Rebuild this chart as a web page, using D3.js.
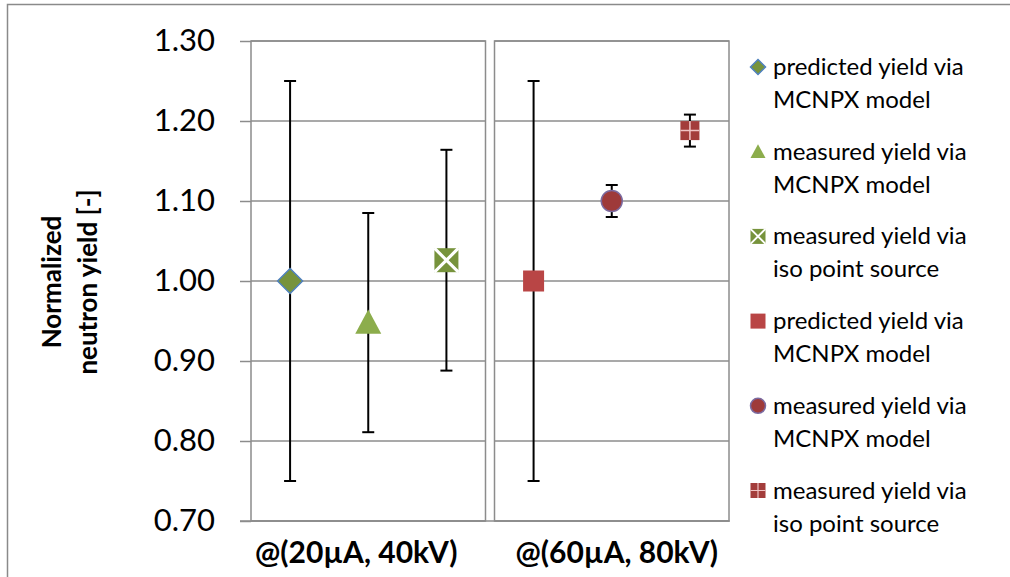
<!DOCTYPE html>
<html>
<head>
<meta charset="utf-8">
<script src="https://cdn.jsdelivr.net/npm/d3@7"></script>
<style>
  body { margin: 0; background: #fff; }
  svg { display: block; font-family: Lato, "Open Sans", sans-serif; }
</style>
</head>
<body>
<div id="chart"></div>
<script>
// categories along the x axis
var categories = ["@(20\u00b5A, 40kV)", "@(60\u00b5A, 80kV)"];

// three series in each category
var values20 = [1.000, 0.948, 1.026];
var errors20 = [0.250, 0.137, 0.138];
var values60 = [1.000, 1.100, 1.188];
var errors60 = [0.250, 0.020, 0.020];

var markers20 = ["diamond", "triangle", "xsquare"];
var markers60 = ["square", "circle", "plussquare"];

var legendLabels = [
    ["predicted yield via", "MCNPX model"],
    ["measured yield via", "MCNPX model"],
    ["measured yield via", "iso point source"],
    ["predicted yield via", "MCNPX model"],
    ["measured yield via", "MCNPX model"],
    ["measured yield via", "iso point source"]
];

var yTicks = [0.70, 0.80, 0.90, 1.00, 1.10, 1.20, 1.30];

var W = 1010, H = 577;
var svg = d3.select("#chart").append("svg")
    .attr("width", W)
    .attr("height", H);

var gridColor = "#8c8c8c";

// outer frame, cut off on the right and the bottom
svg.append("rect")
    .attr("x", 7.5).attr("y", 4.5)
    .attr("width", W + 20).attr("height", H + 20)
    .attr("fill", "none")
    .attr("stroke", "#8a8a8a")
    .attr("stroke-width", 1.5);

var y = d3.scaleLinear().domain([0.7, 1.3]).range([521, 41]);

var xGroup = d3.scaleBand()
    .domain(categories)
    .range([251, 729])
    .paddingInner(0.037)
    .paddingOuter(0);

var xInner = d3.scaleBand()
    .domain([0, 1, 2])
    .range([0, xGroup.bandwidth()]);

var groups = [
    {name: categories[0], values: values20, errors: errors20, markers: markers20},
    {name: categories[1], values: values60, errors: errors60, markers: markers60}
];

// panels with gridlines
groups.forEach(function(g){
    var x0 = xGroup(g.name);
    var x1 = x0 + xGroup.bandwidth();
    svg.append("g").selectAll("line")
        .data(yTicks)
        .enter().append("line")
        .attr("x1", x0).attr("x2", x1)
        .attr("y1", function(d){ return y(d); })
        .attr("y2", function(d){ return y(d); })
        .attr("stroke", gridColor)
        .attr("stroke-width", 1.5);
    svg.append("rect")
        .attr("x", x0).attr("y", y(1.3))
        .attr("width", x1 - x0).attr("height", y(0.7) - y(1.3))
        .attr("fill", "none")
        .attr("stroke", gridColor)
        .attr("stroke-width", 1.5);
});

// y axis
var yAxis = d3.axisLeft(y)
    .tickValues(yTicks)
    .tickFormat(d3.format(".2f"))
    .tickSize(11)
    .tickPadding(25);
var yg = svg.append("g")
    .attr("transform", "translate(251,0)")
    .call(yAxis);
yg.select(".domain").remove();
yg.selectAll(".tick line").attr("stroke", gridColor).attr("stroke-width", 1.5);
yg.selectAll(".tick text")
    .attr("fill", "#000")
    .style("font-size", "31px")
    .style("font-family", "Lato, sans-serif");

// bottom baseline
svg.append("line")
    .attr("x1", 240).attr("x2", 729.75)
    .attr("y1", y(0.7)).attr("y2", y(0.7))
    .attr("stroke", gridColor)
    .attr("stroke-width", 1.5);

// category labels (Excel puts them a little off the panel centres)
var labelShift = [-12, 5];
svg.append("g").selectAll("text")
    .data(categories)
    .enter().append("text")
    .attr("x", function(d, i){ return xGroup(d) + xGroup.bandwidth() / 2 + labelShift[i]; })
    .attr("y", 563)
    .attr("text-anchor", "middle")
    .style("font-size", "30px")
    .style("font-weight", "bold")
    .text(function(d){ return d; });

// y title
var yTitle = svg.append("text")
    .attr("transform", "translate(0,282) rotate(-90)")
    .attr("text-anchor", "middle")
    .style("font-size", "26px")
    .style("font-weight", "bold");
yTitle.append("tspan").attr("x", 0).attr("y", 61).text("Normalized");
yTitle.append("tspan").attr("x", 0).attr("y", 97).text("neutron yield [-]");

function drawMarker(sel, type, s){
    // s = nominal size in px
    var h = s / 2;
    if (type == "diamond"){
        sel.append("path")
            .attr("d", "M0," + (-h) + "L" + h + ",0L0," + h + "L" + (-h) + ",0Z")
            .attr("fill", "#77933c")
            .attr("stroke", "#4f81bd")
            .attr("stroke-width", 1.5);
    }
    else if (type == "triangle"){
        sel.append("path")
            .attr("d", "M0," + (-h) + "L" + h + "," + (h * 0.85) + "L" + (-h) + "," + (h * 0.85) + "Z")
            .attr("fill", "#8cad4c");
    }
    else if (type == "xsquare"){
        sel.append("rect")
            .attr("x", -h).attr("y", -h).attr("width", s).attr("height", s)
            .attr("fill", "#77933c");
        sel.append("path")
            .attr("d", "M" + (-h) + "," + (-h) + "L" + h + "," + h + "M" + h + "," + (-h) + "L" + (-h) + "," + h)
            .attr("stroke", "#fff")
            .attr("stroke-width", s * 0.13);
    }
    else if (type == "square"){
        sel.append("rect")
            .attr("x", -h).attr("y", -h).attr("width", s).attr("height", s)
            .attr("fill", "#b94545");
    }
    else if (type == "circle"){
        sel.append("circle")
            .attr("r", h)
            .attr("fill", "#9e3a3a")
            .attr("stroke", "#7b6aa0")
            .attr("stroke-width", 1.5);
    }
    else if (type == "plussquare"){
        sel.append("rect")
            .attr("x", -h).attr("y", -h).attr("width", s).attr("height", s)
            .attr("fill", "#a33d3b");
        sel.append("path")
            .attr("d", "M0," + (-h) + "V" + h + "M" + (-h) + ",0H" + h)
            .attr("stroke", "#f0c4c4")
            .attr("stroke-width", s * 0.08);
    }
}

var markerSizes = {diamond: 25, triangle: 26, xsquare: 24, square: 21, circle: 21, plussquare: 19};

// error bars and markers
groups.forEach(function(g){
    var x0 = xGroup(g.name);
    g.values.forEach(function(v, i){
        var cx = x0 + xInner(i) + xInner.bandwidth() / 2;
        var e = g.errors[i];
        var eb = svg.append("g")
            .attr("stroke", "#000")
            .attr("stroke-width", 2);
        eb.append("line")
            .attr("x1", cx).attr("x2", cx)
            .attr("y1", y(v + e)).attr("y2", y(v - e));
        [v + e, v - e].forEach(function(t){
            eb.append("line")
                .attr("x1", cx - 6).attr("x2", cx + 6)
                .attr("y1", y(t)).attr("y2", y(t));
        });
        var m = svg.append("g").attr("transform", "translate(" + cx + "," + y(v) + ")");
        drawMarker(m, g.markers[i], markerSizes[g.markers[i]]);
    });
});

// legend
var legendMarkers = markers20.concat(markers60);
var legend = svg.append("g").attr("transform", "translate(758,0)");
legendLabels.forEach(function(lines, i){
    var cy = 67 + i * 84.7;
    var m = legend.append("g").attr("transform", "translate(0," + cy + ")");
    drawMarker(m, legendMarkers[i], 15);
    var t = legend.append("text")
        .style("font-size", "24px")
        .attr("fill", "#000");
    t.append("tspan").attr("x", 15).attr("y", cy + 8).text(lines[0]);
    t.append("tspan").attr("x", 15).attr("y", cy + 41).text(lines[1]);
});
</script>
</body>
</html>
